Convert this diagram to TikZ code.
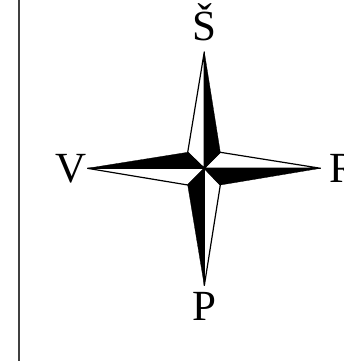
\documentclass[tikz,border=0pt]{standalone}
\usepackage{fontspec}
\setmainfont{Liberation Serif}
\begin{document}
\begin{tikzpicture}[x=1pt,y=-1pt,
  lbl/.style={inner sep=0pt,font=\fontsize{43pt}{43pt}\selectfont,anchor=base},
  blackfin/.style={fill=black,draw=black,line width=0.3pt,line join=miter},
  whitefin/.style={fill=white,draw=black,line width=1.2pt,line join=miter},
  rule/.style={draw=black!75,line width=1.4pt}]
\useasboundingbox (0,0) rectangle (344,361);
\clip (0,0) rectangle (344,361);
\coordinate (c) at (204.3,168.3);
\coordinate (n) at (204.3,51.7);
\coordinate (s) at (204.3,285.7);
\coordinate (w) at (87.3,168.3);
\coordinate (e) at (320.7,168.3);
\coordinate (nw) at (187.7,152.3);
\coordinate (ne) at (220.3,152.3);
\coordinate (se) at (220.3,185);
\coordinate (sw) at (187.7,185);
\coordinate (rt) at (19,0);
\coordinate (rb) at (19,361);
\draw[rule] (rt) -- (rb);
\draw[whitefin] (n) -- (nw) -- (c) -- cycle;
\draw[whitefin] (e) -- (ne) -- (c) -- cycle;
\draw[whitefin] (s) -- (se) -- (c) -- cycle;
\draw[whitefin] (w) -- (sw) -- (c) -- cycle;
\draw[blackfin] (n) -- (ne) -- (c) -- cycle;
\draw[blackfin] (e) -- (se) -- (c) -- cycle;
\draw[blackfin] (s) -- (sw) -- (c) -- cycle;
\draw[blackfin] (w) -- (nw) -- (c) -- cycle;
\node[lbl] (north) at (204,41) {Š};
\node[lbl] (west) at (71,182) {V};
\node[lbl,anchor=base west] (east) at (329,182) {R};
\node[lbl] (south) at (204,320) {P};
\end{tikzpicture}
\end{document}
